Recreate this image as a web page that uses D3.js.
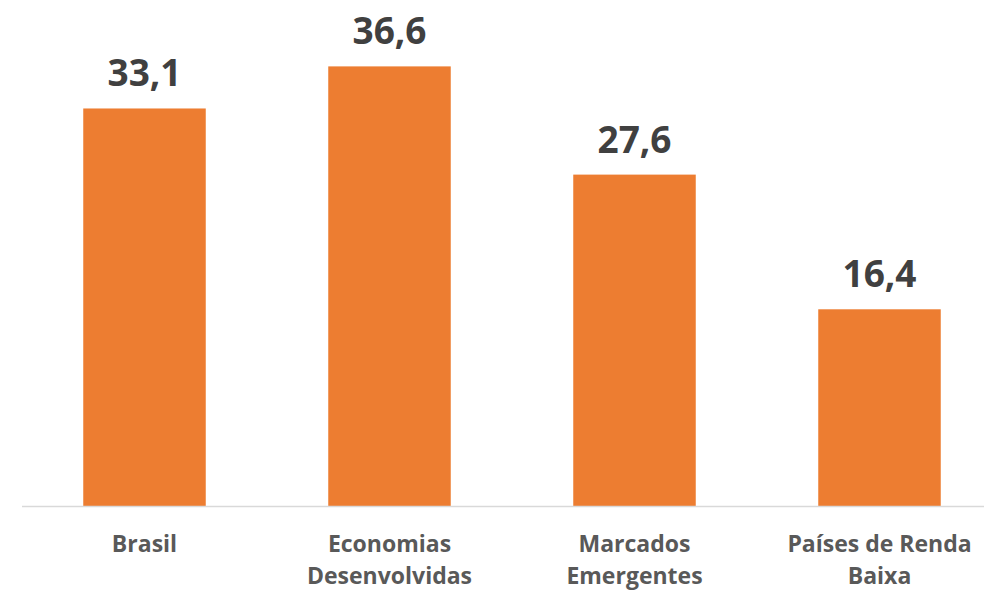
<!DOCTYPE html>
<html>
<head>
<meta charset="utf-8">
<script src="https://cdn.jsdelivr.net/npm/d3@7"></script>
<style>
  html, body { margin: 0; padding: 0; background: #fff; }
  svg { display: block; }
</style>
</head>
<body>
<script>
const categories = [["Brasil"], ["Economias", "Desenvolvidas"], ["Marcados", "Emergentes"], ["Países de Renda", "Baixa"]];
const values = [33.1, 36.6, 27.6, 16.4];
const valueLabels = ["33,1", "36,6", "27,6", "16,4"];

const W = 984, H = 591;
const plotLeft = 22, plotRight = 1002, baseY = 506.5, topY = 25.5;

const svg = d3.select("body").append("svg").attr("width", W).attr("height", H);

const keys = categories.map((c, i) => i);
const x = d3.scaleBand().domain(keys).range([plotLeft, plotRight]).paddingInner(0.5).paddingOuter(0.25);
const y = d3.scaleLinear().domain([0, 40]).range([baseY, topY]);

svg.append("g").selectAll("rect").data(values).join("rect")
  .attr("x", (d, i) => x(i))
  .attr("width", x.bandwidth())
  .attr("y", d => y(d))
  .attr("height", d => y(0) - y(d))
  .attr("fill", "#ED7D31");

svg.append("line")
  .attr("x1", plotLeft).attr("x2", plotRight)
  .attr("y1", baseY).attr("y2", baseY)
  .attr("stroke", "#D9D9D9").attr("stroke-width", 1.5);

svg.append("g").selectAll("text").data(values).join("text")
  .attr("x", (d, i) => x(i) + x.bandwidth() / 2)
  .attr("y", d => y(d) - 22)
  .attr("text-anchor", "middle")
  .attr("font-family", "'Open Sans', sans-serif")
  .attr("font-weight", 700)
  .attr("font-size", 37)
  .attr("fill", "#404040")
  .text((d, i) => valueLabels[i]);

const lab = svg.append("g").selectAll("text").data(categories).join("text")
  .attr("x", (d, i) => x(i) + x.bandwidth() / 2)
  .attr("y", 552)
  .attr("text-anchor", "middle")
  .attr("font-family", "'Open Sans', sans-serif")
  .attr("font-weight", 700)
  .attr("font-size", 23)
  .attr("fill", "#595959");
lab.selectAll("tspan").data(d => d).join("tspan")
  .attr("x", function () { return d3.select(this.parentNode).attr("x"); })
  .attr("dy", (d, j) => j === 0 ? 0 : 32)
  .text(d => d);
</script>
</body>
</html>
